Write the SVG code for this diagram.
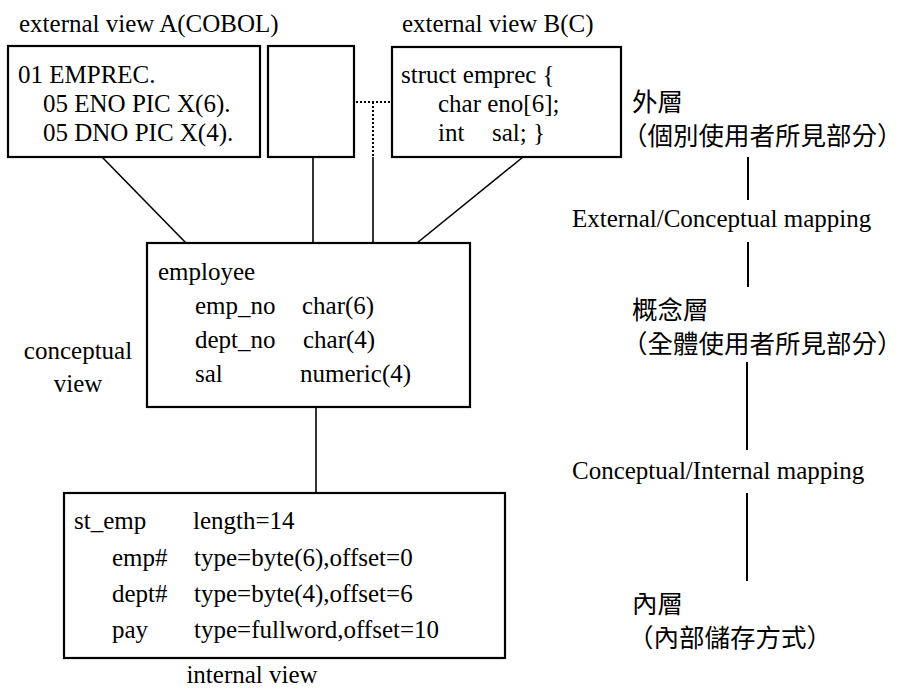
<svg xmlns="http://www.w3.org/2000/svg" width="903" height="689" viewBox="0 0 903 689">
<style>
.box{fill:#fff;stroke:#000;stroke-width:2.2}
.t{font-family:"Liberation Serif","Times New Roman",serif;font-size:25px;fill:#000}
.c{font-family:"Noto Sans CJK TC","Noto Sans CJK SC",sans-serif;font-size:25.5px;fill:#000}
.ln{stroke:#000;stroke-width:1.6;fill:none}
.vl{stroke:#000;stroke-width:2;fill:none}
.dot{stroke:#000;stroke-width:2;fill:none;stroke-dasharray:2 2}
</style>
<rect width="903" height="689" fill="#fff"/>
<g id="connectors">
<line class="ln" x1="102" y1="157" x2="186" y2="243"/>
<line class="ln" x1="313" y1="157" x2="313" y2="243"/>
<line class="dot" x1="356" y1="102" x2="391" y2="102"/>
<line class="dot" x1="373" y1="102" x2="373" y2="157"/>
<line class="ln" x1="373" y1="157" x2="373" y2="243"/>
<line class="ln" x1="523" y1="157" x2="417" y2="243"/>
<line class="ln" x1="316" y1="407" x2="316" y2="493"/>
<line class="vl" x1="748" y1="157" x2="748" y2="200"/>
<line class="vl" x1="748" y1="242" x2="748" y2="287"/>
<line class="vl" x1="747" y1="362" x2="747" y2="450"/>
<line class="vl" x1="747" y1="493" x2="747" y2="581"/>
</g>
<g id="extA">
<text class="t" x="19" y="32">external view A(COBOL)</text>
<rect class="box" x="8" y="46" width="252" height="111"/>
<text class="t" x="18" y="83">01 EMPREC.</text>
<text class="t" x="43" y="112">05 ENO PIC X(6).</text>
<text class="t" x="43" y="141">05 DNO PIC X(4).</text>
</g>
<g id="extMid">
<rect class="box" x="268" y="46" width="86" height="111"/>
</g>
<g id="extB">
<text class="t" x="402" y="32">external view B(C)</text>
<rect class="box" x="392" y="47" width="229" height="110"/>
<text class="t" x="401" y="83">struct emprec {</text>
<text class="t" x="438" y="112">char eno[6];</text>
<text class="t" x="438" y="141">int</text>
<text class="t" x="492" y="141">sal; }</text>
</g>
<g id="conceptual">
<rect class="box" x="147" y="243" width="323" height="164"/>
<text class="t" x="158" y="280">employee</text>
<text class="t" x="195" y="314">emp_no</text>
<text class="t" x="302" y="314">char(6)</text>
<text class="t" x="195" y="348">dept_no</text>
<text class="t" x="303" y="348">char(4)</text>
<text class="t" x="195" y="382">sal</text>
<text class="t" x="300" y="382">numeric(4)</text>
<text class="t" x="78" y="359" text-anchor="middle">conceptual</text>
<text class="t" x="78" y="392" text-anchor="middle">view</text>
</g>
<g id="internal">
<rect class="box" x="64" y="493" width="441" height="165"/>
<text class="t" x="74" y="529">st_emp</text>
<text class="t" x="193" y="529">length=14</text>
<text class="t" x="112" y="566">emp#</text>
<text class="t" x="194" y="566">type=byte(6),offset=0</text>
<text class="t" x="112" y="602">dept#</text>
<text class="t" x="194" y="602">type=byte(4),offset=6</text>
<text class="t" x="112" y="638">pay</text>
<text class="t" x="194" y="638">type=fullword,offset=10</text>
<text class="t" x="252" y="683" text-anchor="middle">internal view</text>
</g>
<g id="layers">
<text class="c" x="632" y="111">外層</text>
<text class="c" x="622" y="145">（個別使用者所見部分）</text>
<text class="t" x="572" y="227">External/Conceptual mapping</text>
<text class="c" x="632" y="319">概念層</text>
<text class="c" x="622" y="353">（全體使用者所見部分）</text>
<text class="t" x="572" y="479">Conceptual/Internal mapping</text>
<text class="c" x="632" y="613">內層</text>
<text class="c" x="628" y="647">（內部儲存方式）</text>
</g>
</svg>
